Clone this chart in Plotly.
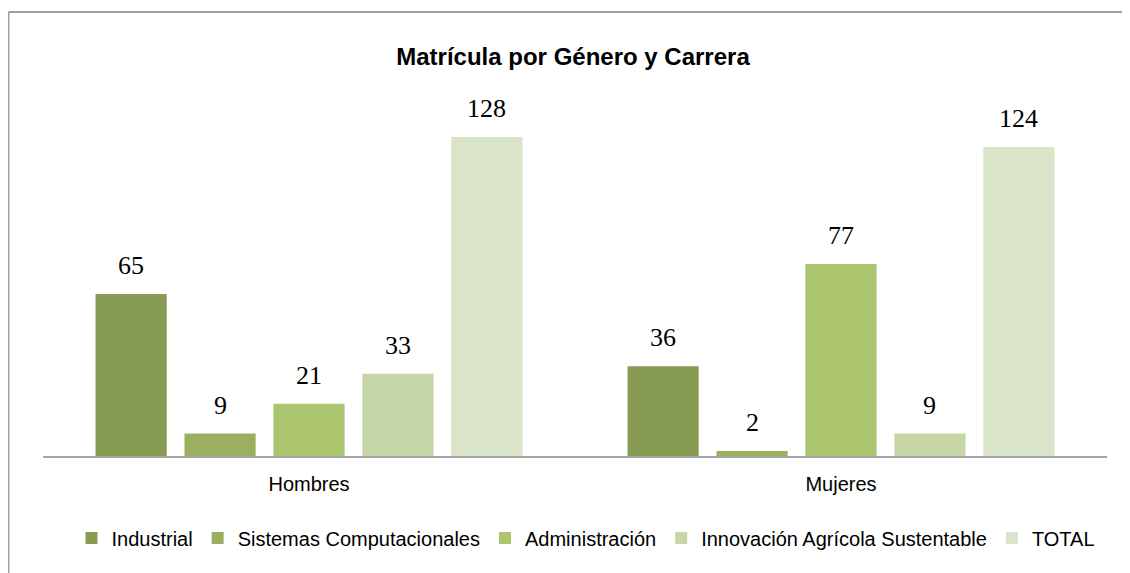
import plotly.graph_objects as go

categories = ["Hombres", "Mujeres"]
series_names = ["Industrial", "Sistemas Computacionales", "Administración",
                "Innovación Agrícola Sustentable", "TOTAL"]
industrial = [65, 36]
sistemas = [9, 2]
administracion = [21, 77]
innovacion = [33, 9]
total = [128, 124]
colors = ["#879B52", "#9BB05E", "#ABC46E", "#C6D6A6", "#D9E4C8"]

series_values = [industrial, sistemas, administracion, innovacion, total]

# page body has an 8px margin; figure coords are offset accordingly
OFF = 8
W, H = 1130 - OFF, 573 - OFF
L, R, T, B = 43 - OFF, 23, 107 - OFF, 117
pw = W - L - R
ph = H - T - B

fig = go.Figure()
for name, vals, col in zip(series_names, series_values, colors):
    fig.add_trace(go.Bar(name=name, x=categories, y=vals, marker_color=col,
                         marker_line_width=0))

# value labels above bars
cat_px = pw / len(categories)
bargap = 0.164
slot = cat_px * (1 - bargap) / len(series_names)
n = len(series_names)
for i, vals in enumerate(series_values):
    for c, v in zip(categories, vals):
        fig.add_annotation(x=c, y=v, text=str(v), showarrow=False,
                           xshift=(i - (n - 1) / 2) * slot, yshift=12,
                           yanchor="bottom",
                           font=dict(family="Liberation Serif", size=26, color="#000000"))

def px_x(p):
    return (p - OFF - L) / pw

def px_y(p):
    return (OFF + H - B - p) / ph

border = "#A0A0A0"
fig.add_shape(type="line", xref="paper", yref="paper",
              x0=px_x(8.5), x1=px_x(8.5), y0=px_y(12), y1=px_y(600),
              line=dict(color=border, width=2))
fig.add_shape(type="line", xref="paper", yref="paper",
              x0=px_x(8.5), x1=px_x(1200), y0=px_y(12), y1=px_y(12),
              line=dict(color=border, width=2))

fig.update_layout(
    width=W, height=H,
    margin=dict(l=L, r=R, t=T, b=B),
    paper_bgcolor="white", plot_bgcolor="white",
    barmode="group", bargap=bargap, bargroupgap=0.2,
    title=dict(text="<b>Matrícula por Género y Carrera</b>", x=(573 - OFF) / W,
               xanchor="center", y=1 - (57 - OFF) / H, yanchor="middle",
               font=dict(family="Liberation Sans", size=24, color="#000000")),
    font=dict(family="Liberation Sans", color="#000000"),
    xaxis=dict(showline=True, linecolor="#A6A6A6", linewidth=2, ticks="",
               tickfont=dict(size=20, family="Liberation Sans", color="#000000"),
               ticklabelstandoff=9, showgrid=False, zeroline=False),
    yaxis=dict(range=[0, 140], visible=False, showgrid=False, zeroline=False),
    legend=dict(orientation="h", x=px_x(586), xanchor="center", y=px_y(538),
                yanchor="middle", font=dict(size=20, family="Liberation Sans"),
                itemwidth=30, traceorder="normal", itemclick=False),
    showlegend=True,
)

fig.write_html("out.html")
